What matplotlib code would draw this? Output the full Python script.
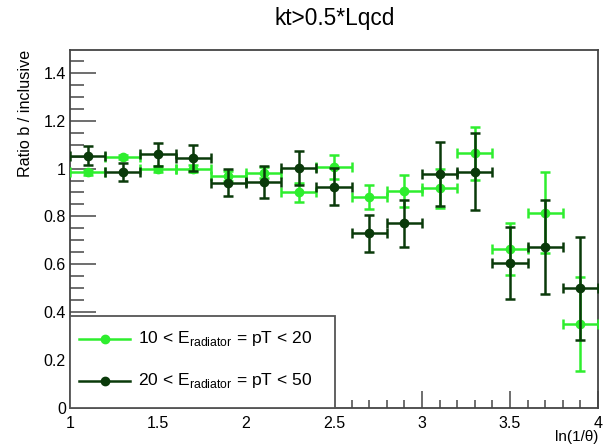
import numpy as np
import matplotlib
matplotlib.use("Agg")
import matplotlib.pyplot as plt
from matplotlib.lines import Line2D
from matplotlib.patches import Rectangle
from matplotlib.ticker import MultipleLocator, FormatStrFormatter

plt.rcParams['font.family'] = ['Liberation Sans', 'DejaVu Sans']
plt.rcParams['mathtext.fontset'] = 'custom'
plt.rcParams['mathtext.rm'] = 'Liberation Sans'

# bins in ln(1/theta), width 0.2
x_centres = [1.1, 1.3, 1.5, 1.7, 1.9, 2.1, 2.3, 2.5, 2.7, 2.9, 3.1, 3.3, 3.5, 3.7, 3.9]
x_halfwidth = 0.1

# 10 < E_radiator < 20
ratio_low = [0.985, 1.048, 0.998, 1.000, 0.969, 0.982, 0.900, 1.007, 0.882, 0.905, 0.917, 1.063, 0.664, 0.816, 0.351]
err_low = [0.010, 0.010, 0.013, 0.013, 0.022, 0.023, 0.038, 0.049, 0.050, 0.066, 0.080, 0.110, 0.110, 0.170, 0.196]

# 20 < E_radiator < 50
ratio_high = [1.054, 0.984, 1.059, 1.043, 0.941, 0.944, 1.003, 0.924, 0.729, 0.771, 0.976, 0.987, 0.607, 0.673, 0.500]
err_high = [0.040, 0.038, 0.047, 0.055, 0.055, 0.066, 0.072, 0.077, 0.079, 0.097, 0.134, 0.160, 0.150, 0.195, 0.215]

labels = [r'10 < E$_{\mathrm{radiator}}$ = pT < 20',
          r'20 < E$_{\mathrm{radiator}}$ = pT < 50']

c_low = '#2eee2e'
c_high = '#0a3a0a'

fig = plt.figure(figsize=(6.04, 4.45), dpi=100)
ax = fig.add_axes([70/604, 37/445, 528/604, 358/445])

ax.errorbar(x_centres, ratio_low, yerr=err_low, xerr=x_halfwidth, fmt='o', color=c_low,
            ms=6, elinewidth=1.8, capsize=3.5, capthick=1.8, zorder=3)
ax.errorbar(x_centres, ratio_high, yerr=err_high, xerr=x_halfwidth, fmt='o', color=c_high,
            ms=6, elinewidth=1.8, capsize=3.5, capthick=1.8, zorder=4)

ax.set_xlim(1, 4)
ax.set_ylim(0, 1.495)
ax.xaxis.set_major_locator(MultipleLocator(0.5))
ax.xaxis.set_minor_locator(MultipleLocator(0.1))
ax.yaxis.set_major_locator(MultipleLocator(0.2))
ax.yaxis.set_minor_locator(MultipleLocator(0.05))
ax.xaxis.set_major_formatter(FormatStrFormatter('%g'))
ax.yaxis.set_major_formatter(FormatStrFormatter('%g'))
ax.tick_params(which='both', direction='in', top=False, right=False, colors='#555555',
               labelcolor='black', labelsize=11.5, width=1.2)
ax.tick_params(axis='y', which='major', length=19, pad=3)
ax.tick_params(axis='y', which='minor', length=10)
ax.tick_params(axis='x', which='major', length=12, pad=6)
ax.tick_params(axis='x', which='minor', length=6)
for s in ax.spines.values():
    s.set_color('#444444')
    s.set_linewidth(1.3)

fig.text(335/604, 1 - 19/445, 'kt>0.5*Lqcd', ha='center', va='center', fontsize=16.3)
fig.text(26/604, 1 - 113/445, 'Ratio b / inclusive', rotation=90, ha='center', va='center', fontsize=11.6)
fig.text(598/604, 1 - 437/445, 'ln(1/θ)', ha='right', va='center', fontsize=11)

# legend box drawn by hand (ROOT TLegend look)
ax.add_patch(Rectangle((0, 0), 265/528, 92/358, transform=ax.transAxes, facecolor='white',
                       edgecolor='#555555', lw=1.3, zorder=5, clip_on=False))
for lab, col, yy in zip(labels, [c_low, c_high], [69/358, 27/358]):
    ax.add_line(Line2D([9/528, 60/528], [yy, yy], transform=ax.transAxes, color=col, lw=1.8, zorder=6))
    ax.add_line(Line2D([34.5/528], [yy], transform=ax.transAxes, color=col, marker='o', ms=6, zorder=6))
    ax.text(68/528, yy, lab, transform=ax.transAxes, va='center', ha='left', fontsize=12.6, zorder=6)

fig.savefig('out.png', dpi=100)
